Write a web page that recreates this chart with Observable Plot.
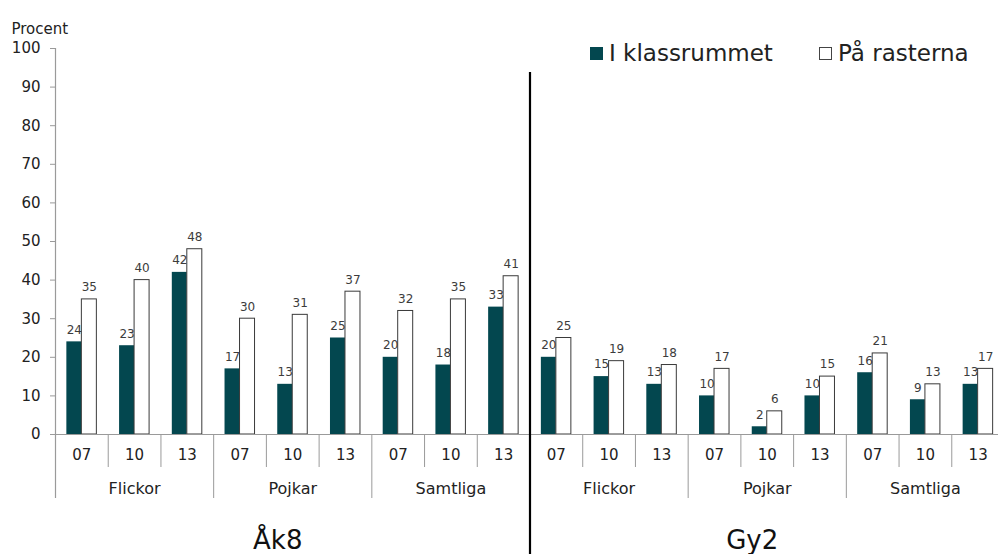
<!DOCTYPE html>
<html><head><meta charset="utf-8">
<script src="https://cdn.jsdelivr.net/npm/d3@7"></script>
<script src="https://cdn.jsdelivr.net/npm/@observablehq/plot@0.6"></script>
<style>
body{margin:0;background:#fff;font-family:"DejaVu Sans",Verdana,sans-serif;}
#chart{position:relative;width:998px;height:554px;overflow:hidden;}
.leg{position:absolute;top:40px;display:flex;align-items:center;font-size:23px;color:#222;white-space:nowrap;}
.sw{display:inline-block;width:13px;height:13px;margin-right:6px;box-sizing:border-box;}
</style></head><body><div id="chart"></div>
<script>
// ---- data ----
const levels = ["Åk8", "Gy2"];
const groups = ["Flickor", "Pojkar", "Samtliga"];
const years = ["07", "10", "13"];
const seriesNames = ["I klassrummet", "På rasterna"];
const klassrummet = [24, 23, 42, 17, 13, 25, 20, 18, 33, 20, 15, 13, 10, 2, 10, 16, 9, 13];
const rasterna   = [35, 40, 48, 30, 31, 37, 32, 35, 41, 25, 19, 18, 17, 6, 15, 21, 13, 17];
const yTicks = [0, 10, 20, 30, 40, 50, 60, 70, 80, 90, 100];
const yLabel = "Procent";

// ---- derived tables ----
const slots = [];
levels.forEach(l => groups.forEach(g => years.forEach(y => slots.push({key: `${l}|${g}|${y}`, level: l, group: g, year: y}))));
const rows = [];
slots.forEach((s, i) => {
  rows.push({...s, series: seriesNames[0], value: klassrummet[i]});
  rows.push({...s, series: seriesNames[1], value: rasterna[i]});
});
const dark = rows.filter(d => d.series === seriesNames[0]);
const light = rows.filter(d => d.series === seriesNames[1]);

const W = 998, H = 554, ML = 55, MR = -6, MT = 48, MB = 120;
const bw = (W - ML - MR) / slots.length;
const barW = 15;
const frameH = H - MT - MB;

const darkColor = "#03474f";
const gridGray = "#9a9a9a";
const font = "DejaVu Sans";

const groupStarts = slots.filter(s => s.year === years[0] && !(s.group === groups[0]));
const yearStarts = slots.filter(s => s.year !== years[0]);
const levelFirst = slots.filter(s => s.group === groups[0] && s.year === years[0]);
const groupMid = slots.filter(s => s.year === years[1]);
const levelMid = slots.filter(s => s.group === groups[1] && s.year === years[1]);

const chart = Plot.plot({
  width: W, height: H,
  marginLeft: ML, marginRight: MR, marginTop: MT, marginBottom: MB,
  style: {fontFamily: font, background: "#fff", color: "#222", overflow: "visible"},
  x: {type: "band", domain: slots.map(s => s.key), padding: 0, round: false, axis: null},
  y: {domain: [0, 100], axis: null},
  marks: [
    Plot.axisY({ticks: yTicks, tickSize: 5, tickPadding: 10, fontSize: 15, stroke: gridGray, fill: "#222", label: null}),
    Plot.text([yLabel], {frameAnchor: "top-left", dx: -44, dy: -25, textAnchor: "start", fontSize: 15, fill: "#222"}),
    // bars
    Plot.barY(dark, {x: "key", y: "value", fill: darkColor, insetLeft: bw / 2 - barW, insetRight: bw / 2}),
    Plot.barY(light, {x: "key", y: "value", fill: "#fff", stroke: "#3a3a3a", strokeWidth: 1, insetLeft: bw / 2, insetRight: bw / 2 - barW}),
    // baseline
    Plot.ruleY([0], {stroke: gridGray, strokeWidth: 1.2}),
    // value labels
    Plot.text(dark, {x: "key", y: "value", text: d => String(d.value), dx: -barW / 2, dy: -12, fontSize: 12, fill: "#3c3c3c"}),
    Plot.text(light, {x: "key", y: "value", text: d => String(d.value), dx: barW / 2, dy: -12, fontSize: 12, fill: "#3c3c3c"}),
    // category axis separators
    Plot.ruleX(yearStarts, {x: "key", dx: -bw / 2, stroke: gridGray, insetTop: frameH, insetBottom: -33}),
    Plot.ruleX(groupStarts, {x: "key", dx: -bw / 2, stroke: gridGray, insetTop: frameH, insetBottom: -64}),
    Plot.ruleX(levelFirst.slice(0, 1), {x: "key", dx: -bw / 2, stroke: gridGray, strokeWidth: 1.2, insetBottom: -64}),
    // category labels
    Plot.text(slots, {x: "key", text: "year", frameAnchor: "bottom", dy: 25, fontSize: 15, fill: "#222"}),
    Plot.text(groupMid, {x: "key", text: "group", frameAnchor: "bottom", dy: 59, fontSize: 16, fill: "#222"}),
    Plot.text(levelMid, {x: "key", text: "level", frameAnchor: "bottom", dx: -15, dy: 114, fontSize: 26, fill: "#111"}),
    // divider between levels
    Plot.ruleX(levelFirst.slice(1), {x: "key", dx: -bw / 2, stroke: "#000", strokeWidth: 2.2, insetTop: 24, insetBottom: -MB})
  ]
});
const root = document.getElementById("chart");
root.appendChild(chart);

// legend overlay
const legItems = [
  {name: seriesNames[0], left: 590, fill: darkColor, border: "none"},
  {name: seriesNames[1], left: 819, fill: "#fff", border: "1px solid #444"}
];
legItems.forEach(it => {
  const d = document.createElement("div");
  d.className = "leg";
  d.style.left = it.left + "px";
  const sw = document.createElement("span");
  sw.className = "sw";
  sw.style.background = it.fill;
  sw.style.border = it.border;
  d.appendChild(sw);
  d.appendChild(document.createTextNode(it.name));
  root.appendChild(d);
});
</script>
</body></html>
